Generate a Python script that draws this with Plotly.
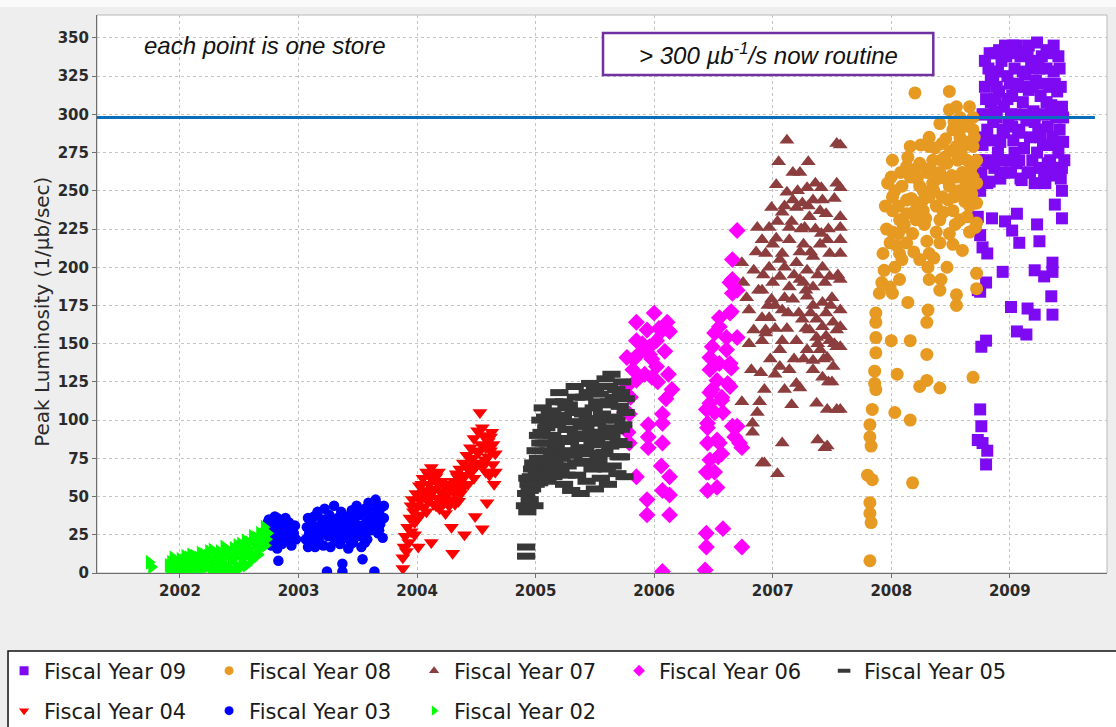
import plotly.graph_objects as go

# ---------------- data (decimal year, peak luminosity 1/ub/sec) ----------------
fy09_points = [
    (2008.76, 262), (2008.77, 280), (2008.78, 300), (2008.79, 318), (2008.80, 270), (2008.81, 290),
    (2008.82, 330), (2008.83, 256), (2008.84, 308), (2008.85, 283), (2008.86, 322), (2008.87, 265),
    (2008.88, 340), (2008.89, 298), (2008.90, 275), (2008.91, 315), (2008.92, 258), (2008.93, 335),
    (2008.94, 288), (2008.95, 305), (2008.96, 345), (2008.97, 270), (2008.98, 325), (2008.99, 295),
    (2009.00, 340), (2009.01, 262), (2009.02, 312), (2009.03, 283), (2009.04, 330), (2009.05, 300),
    (2009.06, 268), (2009.07, 320), (2009.08, 290), (2009.09, 338), (2009.10, 257), (2009.11, 308),
    (2009.12, 278), (2009.13, 326), (2009.14, 296), (2009.15, 262), (2009.16, 316), (2009.17, 285),
    (2009.18, 334), (2009.19, 270), (2009.20, 302), (2009.21, 255), (2009.22, 322), (2009.23, 347),
    (2009.24, 290), (2009.25, 265), (2009.26, 312), (2009.27, 338), (2009.28, 280), (2009.29, 300),
    (2009.30, 255), (2009.31, 330), (2009.32, 292), (2009.33, 318), (2009.34, 270), (2009.35, 306),
    (2009.36, 285), (2009.37, 328), (2009.38, 260), (2009.39, 298), (2009.40, 315), (2009.41, 275),
    (2009.42, 290), (2009.43, 258), (2009.44, 305), (2009.45, 282),
    (2008.80, 310), (2008.86, 295), (2008.92, 282), (2008.98, 310), (2009.04, 275), (2009.12, 340),
    (2009.20, 330), (2009.28, 320), (2009.34, 340), (2009.40, 265), (2008.83, 340), (2009.06, 345),
    (2009.16, 345), (2009.31, 342), (2008.78, 285), (2008.82, 268), (2008.88, 310), (2008.94, 262),
    (2009.00, 320), (2009.02, 292), (2009.08, 270), (2009.14, 318), (2009.24, 335), (2009.26, 285),
    (2009.32, 268), (2009.38, 320), (2009.42, 330), (2009.44, 265), (2009.36, 300), (2008.90, 328),
    (2008.77, 300), (2008.79, 335), (2008.81, 255), (2008.84, 325), (2008.85, 268), (2008.87, 302),
    (2008.89, 318), (2008.91, 342), (2008.93, 270), (2008.95, 290), (2008.97, 338), (2008.99, 262),
    (2009.01, 300), (2009.03, 345), (2009.05, 318), (2009.07, 288), (2009.09, 258), (2009.11, 328),
    (2009.13, 300), (2009.15, 340), (2009.17, 262), (2009.19, 318), (2009.21, 295), (2009.23, 275),
    (2009.25, 330), (2009.27, 300), (2009.29, 260), (2009.31, 308), (2009.33, 280), (2009.35, 262),
    (2009.37, 345), (2009.39, 282), (2009.41, 338), (2009.43, 318), (2009.45, 298), (2009.46, 270),
    (2009.44, 250), (2008.75, 250), (2008.74, 270),
    (2009.06, 235), (2009.38, 241), (2009.44, 232), (2008.85, 232), (2008.96, 230), (2009.02, 224),
    (2009.23, 228), (2009.08, 216), (2009.25, 217), (2008.75, 221), (2008.77, 213), (2008.81, 209),
    (2008.94, 197), (2009.21, 198), (2009.29, 194), (2009.36, 203), (2009.36, 197), (2008.80, 190),
    (2008.75, 184), (2009.35, 181), (2009.01, 174), (2009.15, 173), (2009.21, 169), (2009.36, 169),
    (2009.06, 158), (2009.14, 156), (2008.80, 152), (2008.76, 148), (2008.75, 107), (2008.76, 96),
    (2008.73, 87), (2008.77, 85), (2008.81, 80), (2008.80, 71), (2008.73, 233), (2008.73, 185),
]

fy08_points = [
    (2008.20, 314), (2008.49, 315), (2007.82, 8), (2007.82, 46), (2007.83, 33), (2007.82, 39),
    (2007.80, 64), (2007.84, 61), (2008.18, 59), (2007.83, 83), (2007.82, 89), (2007.82, 97),
    (2007.84, 107), (2008.03, 105), (2008.16, 100), (2007.87, 120), (2007.86, 124), (2007.86, 132),
    (2008.05, 130), (2008.24, 122), (2008.30, 126), (2008.41, 121), (2008.69, 128), (2008.30, 143),
    (2007.87, 144), (2007.87, 154), (2008.00, 152), (2008.16, 152), (2007.87, 164), (2008.30, 164),
    (2007.87, 170), (2008.31, 172), (2008.55, 175), (2007.90, 183), (2008.01, 183), (2008.14, 177),
    (2008.55, 182), (2008.41, 185), (2007.92, 190), (2007.99, 187), (2008.07, 192), (2008.32, 192),
    (2008.42, 192), (2008.72, 186), (2008.72, 196), (2007.94, 198), (2008.03, 200), (2008.31, 200),
    (2008.47, 200), (2007.93, 209), (2008.07, 209), (2008.24, 205), (2008.32, 209), (2008.60, 211),
    (2007.99, 216), (2008.13, 216), (2008.30, 217), (2008.41, 216), (2008.52, 215), (2008.01, 223),
    (2008.38, 223), (2008.49, 222), (2008.66, 223), (2008.07, 231), (2008.21, 231), (2008.41, 231),
    (2008.58, 231), (2008.72, 229), (2008.01, 237), (2008.13, 235), (2008.27, 237), (2008.52, 237),
    (2008.01, 246), (2008.13, 244), (2008.21, 242), (2008.32, 246), (2008.43, 246), (2008.60, 249),
    (2008.72, 242), (2008.09, 253), (2008.24, 253), (2008.35, 255), (2008.49, 253), (2008.66, 255),
    (2008.00, 259), (2008.16, 259), (2008.30, 262), (2008.41, 262), (2008.55, 259), (2008.01, 270),
    (2008.13, 266), (2008.24, 268), (2008.35, 270), (2008.47, 268), (2008.64, 270), (2008.16, 279),
    (2008.32, 279), (2008.43, 281), (2008.55, 279), (2008.69, 279), (2008.32, 285), (2008.41, 294),
    (2008.52, 290), (2008.64, 294), (2008.49, 303), (2008.58, 298), (2008.69, 298), (2008.55, 305),
    (2008.69, 290), (2008.70, 268), (2008.60, 262), (2008.69, 259), (2008.64, 233), (2008.71, 242),
    (2008.71, 226), (2008.38, 240), (2008.45, 272), (2008.58, 285), (2008.62, 280), (2008.66, 305),
    (2008.28, 228), (2008.18, 222), (2008.10, 226), (2008.05, 214), (2008.36, 206), (2008.46, 258),
    (2008.27, 250), (2008.20, 264), (2008.62, 243), (2008.67, 264), (2008.53, 246), (2008.56, 270),
    (2008.03, 250), (2008.06, 240), (2008.08, 262), (2008.11, 228), (2008.14, 272), (2008.17, 245),
    (2008.19, 236), (2008.22, 258), (2008.25, 280), (2008.26, 243), (2008.29, 232), (2008.33, 265),
    (2008.36, 250), (2008.37, 278), (2008.39, 258), (2008.42, 270), (2008.44, 236), (2008.46, 284),
    (2008.48, 244), (2008.50, 276), (2008.51, 260), (2008.53, 295), (2008.54, 228), (2008.57, 250),
    (2008.59, 275), (2008.61, 292), (2008.63, 255), (2008.65, 282), (2008.68, 248), (2008.70, 285),
    (2008.72, 270), (2008.72, 255), (2008.66, 240), (2008.06, 222), (2008.09, 205), (2008.19, 210),
    (2007.96, 225), (2007.95, 240), (2007.97, 255),
]

fy07_points = [
    (2006.87, 226), (2006.74, 203), (2006.84, 198), (2006.75, 190), (2006.88, 185), (2006.80, 172),
    (2006.91, 167), (2006.84, 159), (2006.94, 157), (2006.80, 150), (2006.91, 152), (2006.82, 133),
    (2006.90, 131), (2006.74, 112), (2006.89, 112), (2006.87, 105), (2006.83, 98), (2006.83, 92),
    (2006.93, 120), (2006.91, 72), (2007.04, 65), (2007.08, 85), (2006.93, 72), (2007.44, 82),
    (2007.12, 283), (2007.05, 269), (2007.30, 269), (2007.17, 262), (2007.23, 262), (2007.03, 254),
    (2007.12, 249), (2007.29, 252), (2007.41, 252), (2007.17, 244), (2007.25, 242), (2007.34, 244),
    (2007.42, 244), (2006.99, 239), (2007.08, 236), (2007.20, 239), (2007.40, 237), (2007.31, 233),
    (2006.97, 226), (2007.14, 226), (2007.27, 226), (2007.41, 222), (2006.91, 218), (2007.03, 219),
    (2007.14, 218), (2007.46, 218), (2006.94, 209), (2007.08, 209), (2007.23, 210), (2007.34, 207),
    (2007.48, 209), (2006.97, 200), (2007.20, 203), (2007.29, 198), (2007.42, 200), (2007.06, 194),
    (2007.23, 192), (2007.48, 194), (2006.91, 185), (2007.14, 187), (2007.34, 187), (2006.99, 179),
    (2007.17, 179), (2007.29, 181), (2007.42, 177), (2007.08, 172), (2006.97, 167), (2007.25, 166),
    (2007.37, 166), (2007.51, 164), (2007.42, 161), (2007.31, 159), (2006.94, 159), (2007.54, 159),
    (2007.08, 152), (2007.20, 152), (2007.37, 154), (2007.48, 152), (2007.06, 146), (2007.29, 146),
    (2007.40, 146), (2007.54, 148), (2007.34, 139), (2007.46, 141), (2007.06, 135), (2007.14, 133),
    (2007.34, 133), (2007.51, 135), (2007.20, 124), (2007.42, 128), (2007.23, 121), (2007.37, 111),
    (2007.46, 107), (2007.54, 107), (2007.38, 87), (2007.46, 83), (2007.54, 281), (2007.54, 255),
    (2007.57, 280), (2007.57, 252), (2007.57, 233), (2007.57, 226), (2007.57, 218), (2007.57, 209),
    (2007.57, 192), (2007.57, 172), (2007.57, 161), (2007.57, 148), (2007.57, 107),
    (2007.00, 190), (2007.10, 200), (2007.26, 215), (2007.36, 225), (2007.45, 235), (2007.50, 180),
    (2007.38, 195), (2007.02, 175), (2007.12, 160), (2007.26, 140), (2007.45, 170), (2007.50, 125),
    (2007.10, 120), (2007.16, 110), (2007.18, 140), (2007.28, 185), (2007.32, 170), (2007.44, 190),
    (2006.78, 180), (2006.86, 210), (2006.92, 195), (2006.96, 175), (2007.00, 215), (2007.02, 160),
    (2007.04, 230), (2007.06, 205), (2007.10, 240), (2007.10, 180), (2007.13, 170), (2007.16, 230),
    (2007.18, 195), (2007.21, 250), (2007.22, 170), (2007.24, 225), (2007.26, 190), (2007.28, 160),
    (2007.30, 240), (2007.32, 210), (2007.34, 175), (2007.36, 255), (2007.38, 150), (2007.40, 215),
    (2007.43, 140), (2007.45, 155), (2007.47, 225), (2007.49, 175), (2007.52, 245), (2007.55, 195),
    (2007.52, 150), (2007.47, 125), (2006.98, 140), (2007.02, 130),
]

fy06_points = [
    (2005.85, 164), (2006.00, 170), (2006.11, 164), (2006.13, 158), (2005.77, 141), (2005.85, 152),
    (2005.88, 144), (2005.94, 159), (2005.96, 148), (2006.02, 152), (2006.07, 159), (2005.85, 126),
    (2005.77, 122), (2005.79, 104), (2005.79, 85), (2005.85, 63), (2005.95, 97), (2005.95, 89),
    (2005.95, 82), (2005.98, 128), (2006.10, 114), (2006.07, 104), (2006.07, 98), (2006.07, 85),
    (2006.06, 70), (2006.13, 63), (2006.07, 54), (2006.13, 51), (2005.94, 48), (2005.94, 38),
    (2006.13, 38), (2006.07, 1), (2005.96, 143), (2006.02, 135), (2006.03, 125), (2005.82, 133),
    (2005.75, 105), (2005.78, 92), (2005.80, 115), (2005.83, 140), (2005.90, 150), (2005.92, 130),
    (2005.98, 140), (2006.04, 160), (2006.09, 145), (2006.12, 130), (2006.15, 120),
    (2006.44, 26), (2006.44, 17), (2006.43, 2), (2006.58, 29), (2006.74, 17), (2006.45, 54),
    (2006.53, 56), (2006.46, 66), (2006.54, 76), (2006.45, 85), (2006.55, 85), (2006.45, 98),
    (2006.51, 105), (2006.70, 96), (2006.72, 85), (2006.68, 89), (2006.47, 111), (2006.49, 120),
    (2006.57, 115), (2006.62, 124), (2006.47, 133), (2006.55, 137), (2006.64, 137), (2006.49, 148),
    (2006.61, 154), (2006.55, 161), (2006.64, 170), (2006.66, 183), (2006.64, 190), (2006.70, 224),
    (2006.66, 205), (2006.66, 192), (2006.70, 185), (2006.65, 171), (2006.55, 167), (2006.70, 154),
    (2006.51, 157), (2006.47, 141), (2006.61, 146), (2006.65, 134), (2006.53, 126), (2006.47, 118),
    (2006.64, 122), (2006.57, 113), (2006.44, 107), (2006.58, 105), (2006.45, 95), (2006.66, 96),
    (2006.74, 82), (2006.53, 87), (2006.57, 78), (2006.47, 74), (2006.44, 66), (2006.51, 66),
]

fy05_points = [
    (2004.92, 17), (2004.92, 11), (2004.91, 44), (2004.92, 52), (2004.93, 40), (2004.94, 58),
    (2004.95, 48), (2004.96, 63), (2004.97, 55), (2004.98, 72), (2004.99, 44), (2005.00, 80),
    (2005.01, 66), (2005.02, 90), (2005.03, 59), (2005.04, 100), (2005.05, 75), (2005.06, 108),
    (2005.07, 85), (2005.08, 68), (2005.09, 95), (2005.10, 60), (2005.11, 80), (2005.12, 104),
    (2005.13, 72), (2005.14, 90), (2005.15, 63), (2005.16, 112), (2005.17, 84), (2005.18, 97),
    (2005.19, 76), (2005.20, 118), (2005.21, 66), (2005.22, 88), (2005.23, 103), (2005.24, 58),
    (2005.25, 80), (2005.26, 94), (2005.27, 70), (2005.28, 110), (2005.29, 86), (2005.30, 54),
    (2005.31, 99), (2005.32, 77), (2005.33, 122), (2005.34, 91), (2005.35, 64), (2005.36, 106),
    (2005.37, 82), (2005.38, 52), (2005.39, 96), (2005.40, 73), (2005.41, 115), (2005.42, 88),
    (2005.43, 60), (2005.44, 101), (2005.45, 78), (2005.46, 124), (2005.47, 92), (2005.48, 68),
    (2005.49, 108), (2005.50, 55), (2005.51, 85), (2005.52, 98), (2005.53, 74), (2005.54, 117),
    (2005.55, 62), (2005.56, 104), (2005.57, 89), (2005.58, 79), (2005.59, 127), (2005.60, 95),
    (2005.61, 58), (2005.62, 112), (2005.63, 83), (2005.64, 130), (2005.65, 70), (2005.66, 102),
    (2005.67, 93), (2005.68, 120), (2005.69, 65), (2005.70, 86), (2005.71, 109), (2005.72, 76),
    (2005.73, 125), (2005.74, 97), (2005.75, 63), (2005.76, 114),
    (2005.05, 92), (2005.10, 98), (2005.18, 70), (2005.26, 108), (2005.34, 72), (2005.42, 96),
    (2005.50, 90), (2005.58, 100), (2005.66, 84), (2005.72, 94), (2005.14, 78), (2005.30, 88),
    (2004.93, 62), (2004.95, 54), (2004.97, 68), (2005.00, 58), (2005.02, 75), (2005.04, 85),
    (2005.06, 64), (2005.08, 102), (2005.10, 85), (2005.12, 65), (2005.14, 106), (2005.16, 72),
    (2005.18, 88), (2005.20, 100), (2005.22, 75), (2005.24, 112), (2005.26, 64), (2005.28, 94),
    (2005.30, 78), (2005.32, 105), (2005.34, 115), (2005.36, 90), (2005.38, 72), (2005.40, 104),
    (2005.42, 80), (2005.44, 118), (2005.46, 100), (2005.48, 84), (2005.50, 120), (2005.52, 70),
    (2005.54, 92), (2005.56, 78), (2005.58, 110), (2005.60, 68), (2005.62, 122), (2005.64, 90),
    (2005.66, 115), (2005.68, 100), (2005.70, 76), (2005.72, 118), (2005.74, 84), (2005.76, 105),
    (2005.60, 122), (2005.52, 112),
]

fy04_points = [
    (2003.88, 3), (2003.88, 10), (2003.89, 17), (2003.90, 24), (2003.91, 14), (2003.92, 30),
    (2003.93, 20), (2003.94, 36), (2003.95, 27), (2003.96, 48), (2003.97, 40), (2003.98, 33),
    (2003.99, 52), (2004.00, 44), (2004.01, 17), (2004.02, 57), (2004.03, 38), (2004.04, 49),
    (2004.05, 62), (2004.06, 43), (2004.07, 54), (2004.08, 66), (2004.09, 47), (2004.10, 58),
    (2004.11, 51), (2004.12, 69), (2004.12, 20), (2004.13, 61), (2004.14, 45), (2004.15, 55),
    (2004.16, 63), (2004.17, 49), (2004.18, 58), (2004.19, 42), (2004.20, 53), (2004.21, 60),
    (2004.22, 46), (2004.23, 56), (2004.24, 39), (2004.25, 51), (2004.26, 58), (2004.27, 44),
    (2004.28, 54), (2004.29, 30), (2004.30, 13), (2004.30, 48), (2004.31, 60), (2004.32, 52),
    (2004.33, 65), (2004.34, 57), (2004.35, 47), (2004.36, 68), (2004.37, 61), (2004.38, 55),
    (2004.39, 72), (2004.40, 25), (2004.41, 64), (2004.42, 77), (2004.43, 58), (2004.44, 70),
    (2004.45, 82), (2004.46, 66), (2004.47, 75), (2004.48, 88), (2004.49, 37), (2004.50, 70),
    (2004.51, 93), (2004.52, 79), (2004.53, 105), (2004.54, 84), (2004.55, 29), (2004.56, 90),
    (2004.57, 74), (2004.58, 66), (2004.59, 46), (2004.60, 86), (2004.61, 64), (2004.62, 80),
    (2004.63, 92), (2004.64, 71), (2004.65, 58), (2004.66, 78),
    (2003.95, 44), (2003.98, 25), (2004.00, 35), (2004.02, 48), (2004.04, 58), (2004.06, 52),
    (2004.08, 40), (2004.10, 64), (2004.13, 54), (2004.16, 44), (2004.18, 66), (2004.20, 47),
    (2004.23, 50), (2004.26, 46), (2004.29, 56), (2004.32, 45), (2004.34, 63), (2004.37, 52),
    (2004.40, 58), (2004.43, 68), (2004.46, 74), (2004.48, 62), (2004.50, 80), (2004.53, 72),
    (2004.55, 95), (2004.58, 82), (2004.60, 76), (2004.62, 89), (2004.64, 84), (2004.66, 66),
    (2004.56, 70),
]

fy03_points = [
    (2002.73, 30), (2002.74, 22), (2002.75, 35), (2002.76, 27), (2002.77, 18), (2002.78, 32),
    (2002.79, 25), (2002.80, 37), (2002.81, 21), (2002.82, 16), (2002.83, 29), (2002.83, 8),
    (2002.84, 34), (2002.85, 24), (2002.86, 19), (2002.87, 31), (2002.88, 27), (2002.89, 36),
    (2002.90, 22), (2002.91, 29), (2002.92, 33), (2002.93, 25), (2002.94, 18), (2002.95, 30),
    (2002.96, 26), (2003.06, 22), (2003.07, 30), (2003.08, 17), (2003.09, 26), (2003.10, 20),
    (2003.11, 33), (2003.12, 24), (2003.13, 37), (2003.14, 17), (2003.15, 28), (2003.16, 40),
    (2003.17, 22), (2003.18, 31), (2003.19, 26), (2003.20, 35), (2003.21, 18), (2003.22, 42),
    (2003.23, 29), (2003.24, 1), (2003.25, 24), (2003.26, 38), (2003.27, 17), (2003.28, 33),
    (2003.29, 27), (2003.30, 44), (2003.31, 21), (2003.32, 30), (2003.33, 36), (2003.34, 25),
    (2003.35, 19), (2003.36, 40), (2003.37, 6), (2003.37, 1), (2003.38, 28), (2003.39, 33),
    (2003.40, 23), (2003.41, 37), (2003.42, 16), (2003.43, 30), (2003.44, 26), (2003.45, 41),
    (2003.46, 20), (2003.47, 35), (2003.48, 28), (2003.49, 44), (2003.50, 24), (2003.51, 31),
    (2003.52, 38), (2003.53, 17), (2003.54, 9), (2003.55, 27), (2003.56, 42), (2003.57, 33),
    (2003.58, 22), (2003.59, 46), (2003.60, 36), (2003.61, 28), (2003.62, 40), (2003.63, 31),
    (2003.64, 1), (2003.65, 48), (2003.66, 35), (2003.67, 26), (2003.68, 39), (2003.69, 32),
    (2003.70, 43), (2003.71, 23), (2003.72, 36),
    (2002.74, 33), (2002.78, 20), (2002.82, 36), (2002.86, 28), (2002.90, 33), (2002.94, 27),
    (2002.97, 31), (2002.98, 22), (2003.08, 36), (2003.12, 30), (2003.16, 23), (2003.20, 28),
    (2003.26, 31), (2003.30, 35), (2003.34, 32), (2003.40, 30), (2003.44, 19), (2003.48, 38),
    (2003.52, 27), (2003.56, 20), (2003.60, 31), (2003.64, 40), (2003.68, 28), (2003.72, 44),
    (2003.66, 45), (2003.58, 40), (2003.46, 32),
]

fy02_points = [
    (2001.74, 7), (2001.76, 4), (2001.91, 3), (2001.92, 7), (2001.94, 10), (2001.96, 1),
    (2001.98, 5), (2002.00, 9), (2002.02, 3), (2002.04, 11), (2002.06, 6), (2002.08, 1),
    (2002.09, 12), (2002.11, 8), (2002.13, 4), (2002.15, 10), (2002.17, 13), (2002.19, 2),
    (2002.21, 7), (2002.23, 11), (2002.25, 9), (2002.27, 15), (2002.29, 4), (2002.31, 10),
    (2002.33, 14), (2002.35, 6), (2002.37, 17), (2002.39, 2), (2002.41, 12), (2002.43, 8),
    (2002.45, 16), (2002.47, 5), (2002.49, 14), (2002.51, 19), (2002.53, 10), (2002.55, 21),
    (2002.57, 16), (2002.59, 13), (2002.61, 24), (2002.63, 19), (2002.65, 15), (2002.67, 26),
    (2002.69, 21), (2002.71, 30), (2002.72, 18), (2002.74, 26), (2002.60, 8), (2002.50, 3),
    (2002.66, 12),
    (2001.90, 5), (2001.93, 1), (2001.95, 6), (2001.99, 2), (2002.01, 6), (2002.03, 8),
    (2002.05, 2), (2002.07, 10), (2002.10, 4), (2002.12, 11), (2002.14, 1), (2002.16, 6),
    (2002.18, 9), (2002.20, 12), (2002.22, 4), (2002.24, 14), (2002.26, 1), (2002.28, 7),
    (2002.30, 12), (2002.32, 2), (2002.34, 9), (2002.36, 12), (2002.38, 5), (2002.40, 15),
    (2002.42, 3), (2002.44, 13), (2002.46, 10), (2002.48, 18), (2002.52, 7), (2002.54, 15),
    (2002.56, 12), (2002.58, 20), (2002.62, 11), (2002.64, 23), (2002.68, 17), (2002.70, 25),
    (2002.73, 22), (2002.56, 5), (2002.45, 1), (2002.35, 1),
]

series_names = ["Fiscal Year 09", "Fiscal Year 08", "Fiscal Year 07", "Fiscal Year 06",
                "Fiscal Year 05", "Fiscal Year 04", "Fiscal Year 03", "Fiscal Year 02"]
year_ticks = [2002, 2003, 2004, 2005, 2006, 2007, 2008, 2009]
lum_ticks = [0, 25, 50, 75, 100, 125, 150, 175, 200, 225, 250, 275, 300, 325, 350]
routine_level = 298

# ---------------- styles ----------------
series_data = [fy09_points, fy08_points, fy07_points, fy06_points,
               fy05_points, fy04_points, fy03_points, fy02_points]
styles = [
    dict(symbol="square", color="#7d0af2", size=12),
    dict(symbol="circle", color="#e69a22", size=13),
    dict(symbol="triangle-up", color="#8c3d3d", size=13),
    dict(symbol="diamond", color="#ff00ff", size=13),
    dict(symbol="line-ew", color="#383838", size=13),
    dict(symbol="triangle-down", color="#ff0000", size=13),
    dict(symbol="circle", color="#0000ff", size=10.5),
    dict(symbol="triangle-right", color="#00ff00", size=13),
]


def make_marker(st, size, lw):
    if st["symbol"] == "line-ew":
        return dict(symbol="line-ew", size=size, color=st["color"],
                    line=dict(color=st["color"], width=lw))
    return dict(symbol=st["symbol"], size=size, color=st["color"], line=dict(width=0))


fig = go.Figure()
# data traces
for name, pts, st in zip(series_names, series_data, styles):
    fig.add_trace(go.Scatter(x=[p[0] for p in pts], y=[p[1] for p in pts], mode="markers",
                             name=name, marker=make_marker(st, st["size"], 7),
                             showlegend=False, hoverinfo="skip"))
# legend entries (small symbols, as in the reference legend)
for i, (name, st) in enumerate(zip(series_names, styles)):
    fig.add_trace(go.Scatter(x=[None], y=[None], mode="markers", name=name,
                             marker=make_marker(st, 9, 4), showlegend=True,
                             legend="legend" if i < 5 else "legend2"))

tick_font = dict(family="DejaVu Sans", size=15, color="#2a2a2a", weight="bold")
legend_font = dict(family="DejaVu Sans", size=21, color="#1a1a1a")

fig.update_layout(
    width=1116, height=727,
    margin=dict(l=97, r=9, t=15, b=154, autoexpand=False),
    paper_bgcolor="#eeeeee",
    plot_bgcolor="#ffffff",
    xaxis=dict(range=[2001.30, 2009.82], tickvals=year_ticks,
               ticktext=[str(v) for v in year_ticks],
               showgrid=True, gridcolor="#c4c4c4", griddash="dot", gridwidth=1,
               zeroline=False, showline=True, linecolor="#6e6e6e", linewidth=1,
               ticks="outside", ticklen=4, tickcolor="#6e6e6e", tickfont=tick_font),
    yaxis=dict(range=[0, 365], tickvals=lum_ticks,
               showgrid=True, gridcolor="#c4c4c4", griddash="dot", gridwidth=1,
               zeroline=False, showline=True, linecolor="#6e6e6e", linewidth=1,
               ticks="outside", ticklen=4, tickcolor="#6e6e6e", tickfont=tick_font),
    showlegend=True,
    legend=dict(orientation="h", x=-0.092, xanchor="left", y=-0.1756, yanchor="middle",
                bgcolor="rgba(0,0,0,0)", borderwidth=0, font=legend_font,
                entrywidth=160, entrywidthmode="pixels", itemwidth=30, traceorder="normal"),
    legend2=dict(orientation="h", x=-0.092, xanchor="left", y=-0.2473, yanchor="middle",
                 bgcolor="rgba(0,0,0,0)", borderwidth=0, font=legend_font,
                 entrywidth=160, entrywidthmode="pixels", itemwidth=30, traceorder="normal"),
)

# y-axis title placed as rotated text
fig.add_annotation(xref="paper", yref="paper", x=-0.0545, y=0.468, xanchor="center",
                   yanchor="middle", showarrow=False, textangle=-90,
                   text="Peak Luminosity (1/µb/sec)",
                   font=dict(family="DejaVu Sans", size=20, color="#2a2a2a"))

# white strip along the very top of the image
fig.add_shape(type="rect", xref="paper", yref="paper", x0=-0.2, x1=1.1, y0=1.0143, y1=1.05,
              fillcolor="#fafafa", line=dict(width=0), layer="below")
# legend frame (white box with black border, running off the right edge)
fig.add_shape(type="rect", xref="paper", yref="paper", x0=-0.0881, x1=1.03, y0=-0.32, y1=-0.1398,
              fillcolor="#ffffff", line=dict(color="#111111", width=1.5), layer="below")
# light frame around plot area
fig.add_shape(type="rect", xref="paper", yref="paper", x0=0, x1=1, y0=0, y1=1,
              line=dict(color="#b8b8b8", width=1), layer="below")
# routine level line
fig.add_shape(type="line", xref="paper", yref="y", x0=0, x1=0.988,
              y0=routine_level, y1=routine_level,
              line=dict(color="#0a6ebd", width=3), layer="above")
# annotation box
fig.add_shape(type="rect", xref="paper", yref="paper", x0=0.501, x1=0.828, y0=0.8925, y1=0.9677,
              fillcolor="#ffffff", line=dict(color="#7030a0", width=2.5), layer="above")
fig.add_annotation(xref="paper", yref="paper", x=0.6644, y=0.930, xanchor="center",
                   yanchor="middle", showarrow=False,
                   text="<i>&gt; 300 µb<sup>-1</sup>/s now routine</i>",
                   font=dict(family="Liberation Sans, Arial", size=24, color="#111111"))
fig.add_annotation(xref="paper", yref="paper", x=0.166, y=0.946, xanchor="center",
                   yanchor="middle", showarrow=False,
                   text="<i>each point is one store</i>",
                   font=dict(family="Liberation Sans, Arial", size=24, color="#111111"))

fig.write_html("out.html", config={"displayModeBar": False},
               post_script="document.body.style.margin='0';document.body.style.overflow='hidden';")
